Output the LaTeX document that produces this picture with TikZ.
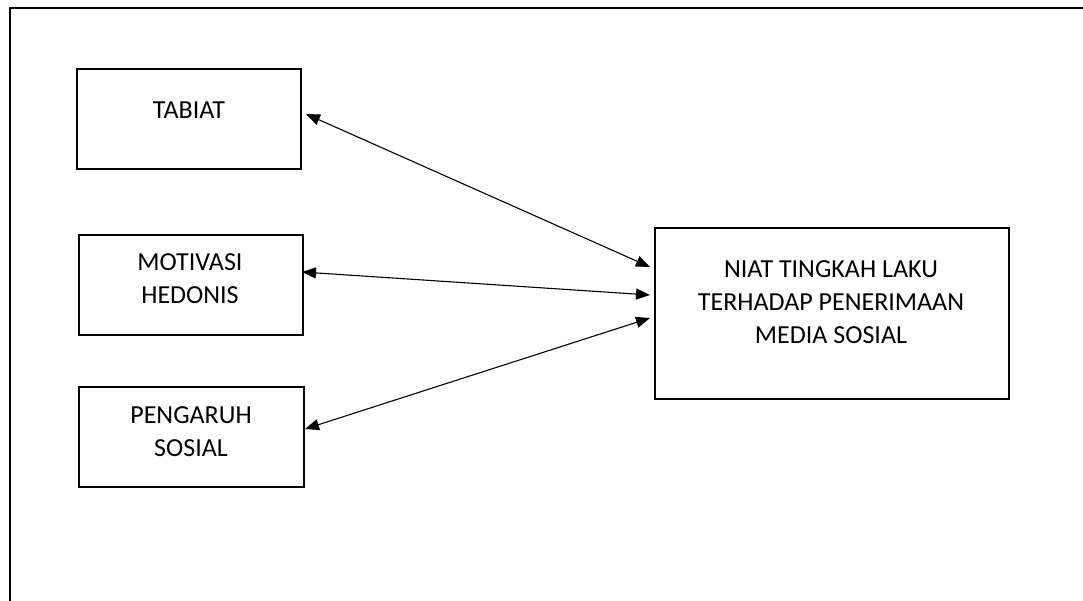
\documentclass[tikz,border=0pt]{standalone}
\usepackage{fontspec}
\setmainfont{Carlito}
\usetikzlibrary{arrows.meta,calc}
\begin{document}
\begin{tikzpicture}[x=1pt,y=-1pt,
  box/.style={draw,line width=2pt,rectangle,inner sep=0pt,outer sep=0pt},
  lbl/.style={align=center,inner sep=0pt,font=\fontsize{26}{33}\selectfont},
  link/.style={line width=1.1pt,{Triangle[length=14pt,width=11pt]}-{Triangle[length=14pt,width=11pt]}},
  frame/.style={line width=2pt}]
\useasboundingbox (0,0) rectangle (1083,601);
\coordinate (ftl) at (10,8);
\coordinate (ftr) at (1083,8);
\coordinate (fbl) at (10,601);
\draw[frame] (ftr) -- (ftl) -- (fbl);
% boxes
\node[box,minimum width=224pt,minimum height=100pt] (tabiat) at (189,119) {};
\node[box,minimum width=224pt,minimum height=100pt] (motivasi) at (191,285) {};
\node[box,minimum width=225pt,minimum height=100pt] (pengaruh) at (191.5,437) {};
\node[box,minimum width=354pt,minimum height=171pt] (niat) at (832,313.5) {};
% texts
\node[lbl] (ttabiat) at (189,110) {TABIAT};
\node[lbl] (tmotivasi) at (190,279) {MOTIVASI\\HEDONIS};
\node[lbl] (tpengaruh) at (191,431.5) {PENGARUH\\SOSIAL};
\node[lbl] (tniat) at (831,302.5) {NIAT TINGKAH LAKU\\TERHADAP PENERIMAAN\\MEDIA SOSIAL};
% connectors
\draw[link] ($(tabiat.east)+(5,-5)$) -- ($(niat.west)+(-5,-46.5)$);
\draw[link] ($(motivasi.east)+(-1,-13)$) -- ($(niat.west)+(-5,-18.5)$);
\draw[link] ($(pengaruh.east)+(1,-8)$) -- ($(niat.west)+(-5,4.5)$);
\end{tikzpicture}
\end{document}
